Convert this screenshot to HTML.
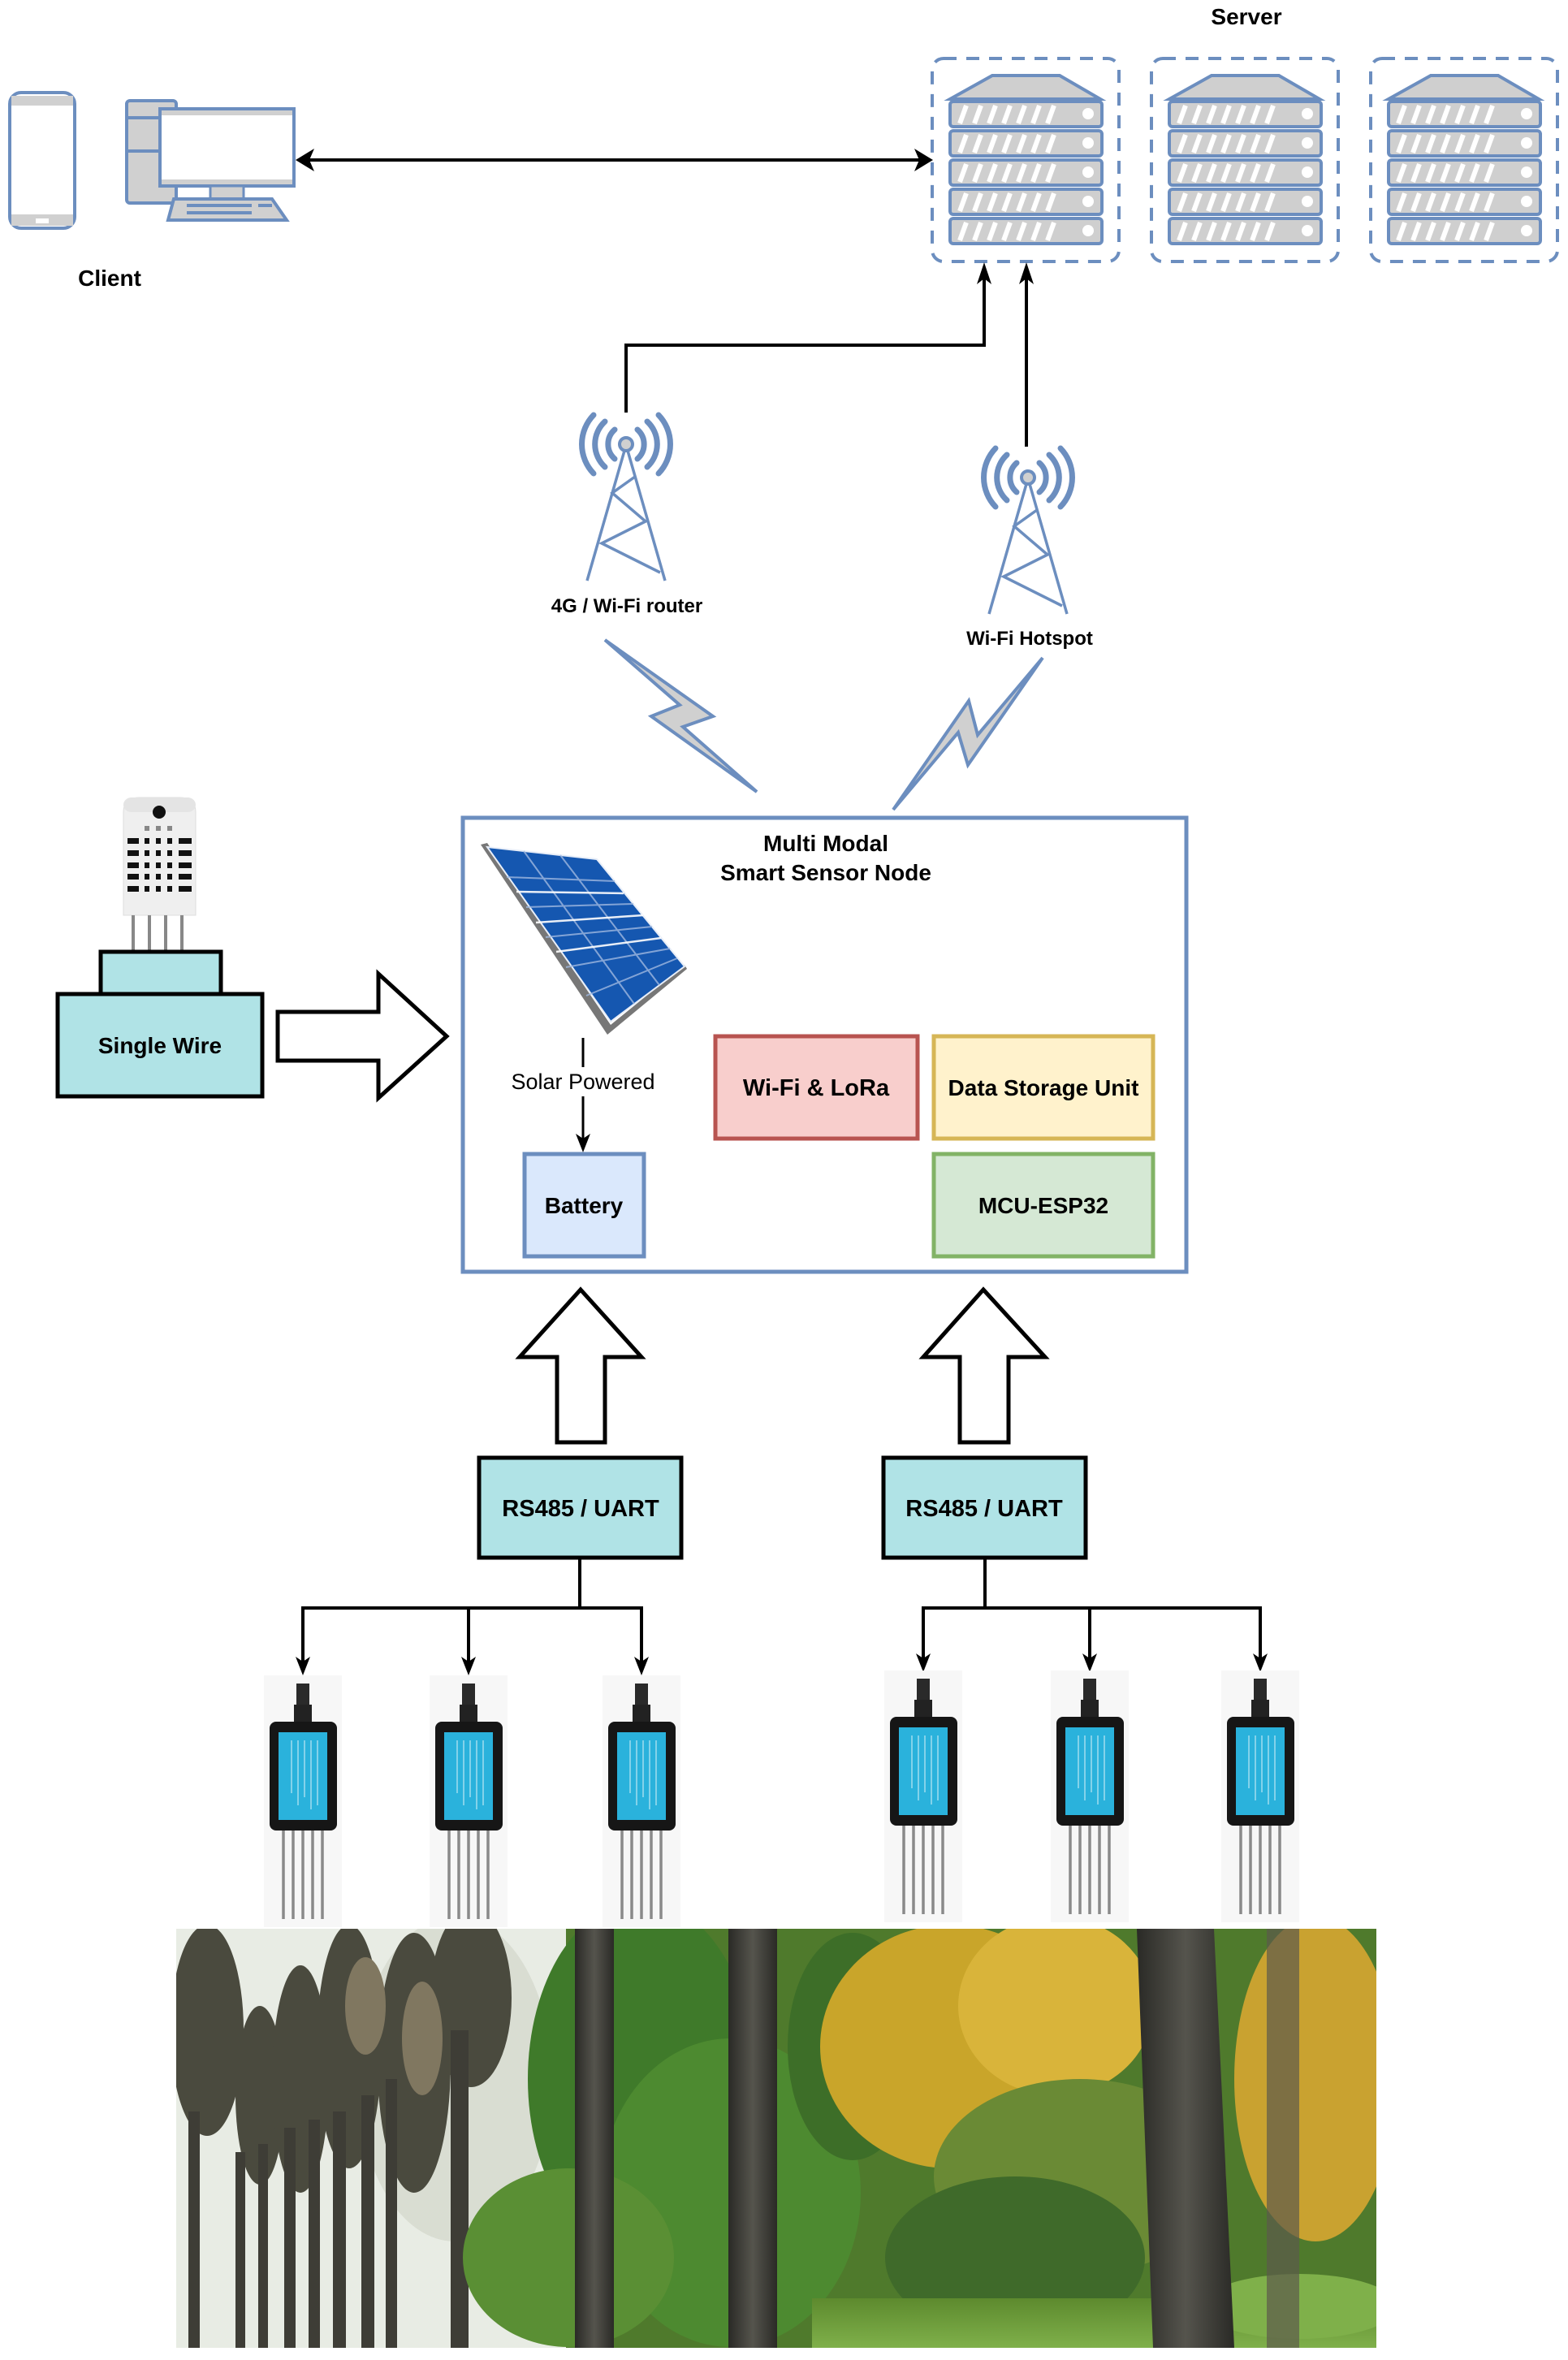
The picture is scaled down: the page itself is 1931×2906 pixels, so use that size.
<!DOCTYPE html>
<html><head><meta charset="utf-8"><style>
html,body{margin:0;padding:0;background:#fff;}
svg{display:block}
text{font-family:"Liberation Sans",Arial,sans-serif;}
</style></head><body>
<svg width="1931" height="2906" viewBox="0 0 1931 2906" xmlns="http://www.w3.org/2000/svg">
<defs>
<marker id="ah" markerWidth="10" markerHeight="10" refX="9" refY="5" orient="auto" markerUnits="userSpaceOnUse" viewBox="0 0 10 10">
</marker>
<g id="srv">
  <rect x="0" y="0" width="230" height="250" rx="14" fill="none" stroke="#6c8ebf" stroke-width="4" stroke-dasharray="16,12"/>
  <polygon points="74,21 157,21 207,50 22,50" fill="#cfcfcf" stroke="#6c8ebf" stroke-width="4"/>
  <g id="unit">
    <rect x="22" y="53" width="187" height="31" rx="4" fill="#cfcfcf" stroke="#6c8ebf" stroke-width="4"/>
    <g stroke="#fff" stroke-width="6">
      <line x1="34" y1="80" x2="42" y2="58"/><line x1="52" y1="80" x2="60" y2="58"/><line x1="70" y1="80" x2="78" y2="58"/>
      <line x1="88" y1="80" x2="96" y2="58"/><line x1="106" y1="80" x2="114" y2="58"/><line x1="124" y1="80" x2="132" y2="58"/><line x1="142" y1="80" x2="150" y2="58"/>
    </g>
    <circle cx="192" cy="68" r="7" fill="#fff"/>
  </g>
  <use href="#unit" y="36"/><use href="#unit" y="72"/><use href="#unit" y="108"/><use href="#unit" y="144"/>
</g>
<g id="tower">
  <g fill="none" stroke="#6c8ebf" stroke-width="7" stroke-linecap="round">
    <path d="M -14 -18 A 24 24 0 0 0 -14 18"/><path d="M 14 -18 A 24 24 0 0 1 14 18"/>
    <path d="M -26 -28 A 38 38 0 0 0 -26 28"/><path d="M 26 -28 A 38 38 0 0 1 26 28"/>
    <path d="M -40 -36 A 52 52 0 0 0 -40 36"/><path d="M 40 -36 A 52 52 0 0 1 40 36"/>
  </g>
  <circle cx="0" cy="0" r="8" fill="#d0d0d0" stroke="#6c8ebf" stroke-width="4"/>
  <g stroke="#6c8ebf" stroke-width="3.5" fill="none">
    <line x1="-2" y1="8" x2="-48" y2="168"/><line x1="2" y1="8" x2="48" y2="168"/>
    <polyline points="11,40 -17,60 24,95 -30,122 42,158"/>
  </g>
</g>
<g id="soil">
  <rect x="-48" y="-10" width="96" height="310" fill="#f7f7f7"/>
  <rect x="-8" y="0" width="16" height="30" fill="#2a2a2a"/>
  <rect x="-11" y="26" width="22" height="22" fill="#222"/>
  <rect x="-41" y="47" width="83" height="134" rx="8" fill="#161616"/>
  <rect x="-30" y="60" width="60" height="108" fill="#2ab2dc"/>
  <g stroke="#fff" stroke-width="1.2" opacity="0.7">
    <line x1="18" y1="70" x2="18" y2="150"/><line x1="10" y1="70" x2="10" y2="155"/><line x1="2" y1="70" x2="2" y2="140"/><line x1="-6" y1="70" x2="-6" y2="150"/><line x1="-14" y1="70" x2="-14" y2="135"/>
  </g>
  <g stroke="#8a8a8a" stroke-width="3.5">
    <line x1="-24" y1="181" x2="-24" y2="290"/><line x1="-12" y1="181" x2="-12" y2="290"/><line x1="0" y1="181" x2="0" y2="290"/><line x1="12" y1="181" x2="12" y2="290"/><line x1="24" y1="181" x2="24" y2="290"/>
  </g>
</g>
<linearGradient id="trunk" x1="0" x2="1"><stop offset="0" stop-color="#2a2a26"/><stop offset="0.5" stop-color="#55544d"/><stop offset="1" stop-color="#2a2a26"/></linearGradient>
<linearGradient id="ground" x1="0" y1="0" x2="0" y2="1"><stop offset="0" stop-color="#5d8a2e"/><stop offset="1" stop-color="#7fb04a"/></linearGradient>
<clipPath id="pc"><rect x="217" y="2375" width="1478" height="516"/></clipPath>
</defs>

<!-- Client -->
<rect x="12" y="114" width="80" height="167" rx="14" fill="#fff" stroke="#6c8ebf" stroke-width="4"/>
<rect x="14" y="118" width="76" height="12" fill="#d0d0d0"/>
<rect x="14" y="264" width="76" height="14" fill="#d0d0d0"/>
<rect x="44" y="269" width="16" height="6" fill="#fff"/>
<rect x="156" y="124" width="61" height="126" rx="4" fill="#d0d0d0" stroke="#6c8ebf" stroke-width="4"/>
<line x1="156" y1="145" x2="217" y2="145" stroke="#6c8ebf" stroke-width="4"/>
<line x1="156" y1="186" x2="217" y2="186" stroke="#6c8ebf" stroke-width="4"/>
<rect x="197" y="134" width="165" height="95" fill="#fff" stroke="#6c8ebf" stroke-width="4"/>
<rect x="199" y="136" width="161" height="6" fill="#d0d0d0"/>
<rect x="199" y="221" width="161" height="6" fill="#d0d0d0"/>
<rect x="259" y="229" width="41" height="16" fill="#d0d0d0" stroke="#6c8ebf" stroke-width="3"/>
<polygon points="214,245 335,245 353,271 207,271" fill="#d0d0d0" stroke="#6c8ebf" stroke-width="4"/>
<g stroke="#6c8ebf" stroke-width="4"><line x1="230" y1="253" x2="310" y2="253"/><line x1="230" y1="262" x2="310" y2="262"/><line x1="318" y1="253" x2="335" y2="253"/></g>
<text x="135" y="352" font-size="28" font-weight="bold" text-anchor="middle">Client</text>

<!-- client-server arrow -->
<line x1="375" y1="197" x2="1138" y2="197" stroke="#000" stroke-width="4"/>
<polygon points="364,197 387,183 381,197 387,211" fill="#000"/>
<polygon points="1149,197 1126,183 1132,197 1126,211" fill="#000"/>

<!-- Servers -->
<text x="1535" y="30" font-size="28" font-weight="bold" text-anchor="middle">Server</text>
<use href="#srv" x="1148" y="72"/>
<use href="#srv" x="1418" y="72"/>
<use href="#srv" x="1688" y="72"/>

<!-- tower connectors -->
<polyline points="771,508 771,425 1212,425 1212,340" fill="none" stroke="#000" stroke-width="4"/>
<polygon points="1212,323 1203,350 1212,343 1221,350" fill="#000"/>
<line x1="1264" y1="550" x2="1264" y2="340" stroke="#000" stroke-width="4"/>
<polygon points="1264,323 1255,350 1264,343 1273,350" fill="#000"/>

<use href="#tower" x="771" y="547"/>
<use href="#tower" x="1266" y="588" transform=""/>
<text x="772" y="754" font-size="24" font-weight="bold" text-anchor="middle">4G / Wi-Fi router</text>
<text x="1268" y="794" font-size="24" font-weight="bold" text-anchor="middle">Wi-Fi Hotspot</text>

<!-- bolts -->
<polygon points="745,788 837,868 802,882 932,975 841,895 878,882" fill="#d0d0d0" stroke="#6c8ebf" stroke-width="4" stroke-linejoin="miter"/>
<polygon points="1284,810 1192,942 1180,902 1100,997 1193,863 1204,905" fill="#d0d0d0" stroke="#6c8ebf" stroke-width="4"/>

<!-- Main box -->
<rect x="570" y="1007" width="891" height="559" fill="#fff" stroke="#6c8ebf" stroke-width="5"/>
<text x="1017" y="1048" font-size="28" font-weight="bold" text-anchor="middle">Multi Modal</text>
<text x="1017" y="1084" font-size="28" font-weight="bold" text-anchor="middle">Smart Sensor Node</text>

<!-- solar panel -->
<polygon points="592,1040 748,1274 846,1193 843,1188 752,1262 600,1038" fill="#777"/>
<polygon points="600,1043 735,1058 843,1190 752,1258" fill="#1557b0" stroke="#e8eef8" stroke-width="2"/>
<g stroke="#9fb8e0" stroke-width="2" fill="none" opacity="0.8">
  <line x1="645" y1="1048" x2="781" y2="1236"/><line x1="690" y1="1053" x2="812" y2="1213"/>
  <line x1="624" y1="1080" x2="757" y2="1085"/><line x1="648" y1="1117" x2="780" y2="1113"/><line x1="672" y1="1154" x2="803" y2="1141"/><line x1="697" y1="1191" x2="825" y2="1168"/><line x1="722" y1="1226" x2="834" y2="1180"/>
</g>
<g stroke="#fff" stroke-width="2.5" opacity="0.9">
  <line x1="636" y1="1098" x2="768" y2="1100"/><line x1="660" y1="1136" x2="792" y2="1127"/><line x1="685" y1="1172" x2="814" y2="1155"/>
</g>

<!-- solar powered -->
<line x1="718" y1="1278" x2="718" y2="1314" stroke="#000" stroke-width="3"/>
<text x="718" y="1341" font-size="27" text-anchor="middle">Solar Powered</text>
<line x1="718" y1="1350" x2="718" y2="1405" stroke="#000" stroke-width="3"/>
<polygon points="718,1419 709,1396 718,1402 727,1396" fill="#000"/>

<rect x="646" y="1421" width="147" height="126" fill="#dae8fc" stroke="#6c8ebf" stroke-width="5"/>
<text x="719" y="1494" font-size="28" font-weight="bold" text-anchor="middle">Battery</text>
<rect x="881" y="1276" width="249" height="126" fill="#f8cecc" stroke="#b85450" stroke-width="5"/>
<text x="1005" y="1349" font-size="29" font-weight="bold" text-anchor="middle">Wi-Fi &amp; LoRa</text>
<rect x="1150" y="1276" width="270" height="126" fill="#fff2cc" stroke="#d6b656" stroke-width="5"/>
<text x="1285" y="1349" font-size="28" font-weight="bold" text-anchor="middle">Data Storage Unit</text>
<rect x="1150" y="1421" width="270" height="126" fill="#d5e8d4" stroke="#82b366" stroke-width="5"/>
<text x="1285" y="1494" font-size="28" font-weight="bold" text-anchor="middle">MCU-ESP32</text>

<!-- DHT sensor + single wire -->
<path d="M152,1127 V1000 Q152,982 172,982 H221 Q241,982 241,1000 V1127 Z" fill="#efefef" stroke="#ddd" stroke-width="1"/>
<rect x="152" y="982" width="89" height="18" rx="10" fill="#e4e4e4"/>
<circle cx="196" cy="1000" r="8" fill="#111"/>
<g fill="#888"><rect x="178" y="1017" width="6" height="6"/><rect x="192" y="1017" width="6" height="6"/><rect x="206" y="1017" width="6" height="6"/></g>
<g fill="#111">
  <rect x="157" y="1032" width="14" height="7"/><rect x="178" y="1032" width="6" height="7"/><rect x="192" y="1032" width="6" height="7"/><rect x="206" y="1032" width="6" height="7"/><rect x="220" y="1032" width="16" height="7"/>
  <rect x="157" y="1047" width="14" height="7"/><rect x="178" y="1047" width="6" height="7"/><rect x="192" y="1047" width="6" height="7"/><rect x="206" y="1047" width="6" height="7"/><rect x="220" y="1047" width="16" height="7"/>
  <rect x="157" y="1062" width="14" height="7"/><rect x="178" y="1062" width="6" height="7"/><rect x="192" y="1062" width="6" height="7"/><rect x="206" y="1062" width="6" height="7"/><rect x="220" y="1062" width="16" height="7"/>
  <rect x="157" y="1076" width="14" height="7"/><rect x="178" y="1076" width="6" height="7"/><rect x="192" y="1076" width="6" height="7"/><rect x="206" y="1076" width="6" height="7"/><rect x="220" y="1076" width="16" height="7"/>
  <rect x="157" y="1091" width="14" height="7"/><rect x="178" y="1091" width="6" height="7"/><rect x="192" y="1091" width="6" height="7"/><rect x="206" y="1091" width="6" height="7"/><rect x="220" y="1091" width="16" height="7"/>
</g>
<g stroke="#888" stroke-width="4"><line x1="164" y1="1127" x2="164" y2="1172"/><line x1="184" y1="1127" x2="184" y2="1172"/><line x1="204" y1="1127" x2="204" y2="1172"/><line x1="224" y1="1127" x2="224" y2="1172"/></g>
<rect x="124" y="1172" width="148" height="52" fill="#b0e3e6" stroke="#000" stroke-width="5"/>
<rect x="71" y="1224" width="252" height="126" fill="#b0e3e6" stroke="#000" stroke-width="5"/>
<text x="197" y="1297" font-size="28" font-weight="bold" text-anchor="middle">Single Wire</text>
<polygon points="342,1246 466,1246 466,1199 550,1276 466,1352 466,1306 342,1306" fill="#fff" stroke="#000" stroke-width="5"/>

<!-- up arrows -->
<polygon points="715,1588 790,1671 745,1671 745,1776 686,1776 686,1671 640,1671" fill="#fff" stroke="#000" stroke-width="5"/>
<polygon points="1211,1588 1287,1671 1242,1671 1242,1776 1182,1776 1182,1671 1137,1671" fill="#fff" stroke="#000" stroke-width="5"/>

<rect x="590" y="1795" width="249" height="123" fill="#b0e3e6" stroke="#000" stroke-width="5"/>
<text x="715" y="1867" font-size="29" font-weight="bold" text-anchor="middle">RS485 / UART</text>
<rect x="1088" y="1795" width="249" height="123" fill="#b0e3e6" stroke="#000" stroke-width="5"/>
<text x="1212" y="1867" font-size="29" font-weight="bold" text-anchor="middle">RS485 / UART</text>

<!-- trees connectors -->
<g fill="none" stroke="#000" stroke-width="4">
  <polyline points="714,1918 714,1980"/><polyline points="373,2046 373,1980 790,1980 790,2046"/><line x1="577" y1="1980" x2="577" y2="2046"/>
  <polyline points="1213,1918 1213,1980"/><polyline points="1137,2042 1137,1980 1552,1980 1552,2042"/><line x1="1342" y1="1980" x2="1342" y2="2042"/>
</g>
<g fill="#000">
  <polygon points="373,2063 364,2040 373,2046 382,2040"/><polygon points="577,2063 568,2040 577,2046 586,2040"/><polygon points="790,2063 781,2040 790,2046 799,2040"/>
  <polygon points="1137,2059 1128,2036 1137,2042 1146,2036"/><polygon points="1342,2059 1333,2036 1342,2042 1351,2036"/><polygon points="1552,2059 1543,2036 1552,2042 1561,2036"/>
</g>

<use href="#soil" x="373" y="2073"/>
<use href="#soil" x="577" y="2073"/>
<use href="#soil" x="790" y="2073"/>
<use href="#soil" x="1137" y="2067"/>
<use href="#soil" x="1342" y="2067"/>
<use href="#soil" x="1552" y="2067"/>

<!-- photo -->
<g clip-path="url(#pc)">
  <rect x="217" y="2375" width="1478" height="516" fill="#4f7a2c"/>
  <rect x="217" y="2375" width="480" height="516" fill="#e8ece4"/>
  <ellipse cx="560" cy="2560" rx="120" ry="200" fill="#d9ddd2"/>
  <!-- left palms -->
  <g fill="#4a4a3e">
    <ellipse cx="255" cy="2500" rx="45" ry="130"/><ellipse cx="320" cy="2580" rx="30" ry="110"/><ellipse cx="370" cy="2560" rx="35" ry="140"/>
    <ellipse cx="430" cy="2520" rx="40" ry="150"/><ellipse cx="510" cy="2540" rx="45" ry="160"/><ellipse cx="580" cy="2460" rx="50" ry="110"/>
  </g>
  <g fill="#807760"><ellipse cx="450" cy="2470" rx="25" ry="60"/><ellipse cx="520" cy="2510" rx="25" ry="70"/></g>
  <g fill="#3e3d36">
    <rect x="232" y="2600" width="14" height="291"/><rect x="290" y="2650" width="12" height="241"/><rect x="318" y="2640" width="12" height="251"/><rect x="350" y="2620" width="14" height="271"/>
    <rect x="380" y="2610" width="14" height="281"/><rect x="410" y="2600" width="16" height="291"/><rect x="445" y="2580" width="16" height="311"/><rect x="475" y="2560" width="14" height="331"/><rect x="555" y="2500" width="22" height="391"/>
  </g>
  <!-- middle green -->
  <ellipse cx="790" cy="2560" rx="140" ry="220" fill="#3f7a2a"/>
  <ellipse cx="900" cy="2700" rx="160" ry="190" fill="#4d8a30"/>
  <ellipse cx="700" cy="2780" rx="130" ry="110" fill="#5a8f34"/>
  <ellipse cx="1050" cy="2520" rx="80" ry="140" fill="#3d6e28"/>
  <!-- right yellow -->
  <ellipse cx="1170" cy="2520" rx="160" ry="150" fill="#c9a52a"/>
  <ellipse cx="1300" cy="2470" rx="120" ry="110" fill="#d9b43a"/>
  <ellipse cx="1620" cy="2560" rx="100" ry="200" fill="#c9a230"/>
  <ellipse cx="1330" cy="2680" rx="180" ry="120" fill="#6a8a35"/>
  <ellipse cx="1250" cy="2780" rx="160" ry="100" fill="#3f6a2a"/>
  <rect x="1000" y="2830" width="695" height="61" fill="url(#ground)"/>
  <ellipse cx="1600" cy="2840" rx="120" ry="40" fill="#7fb04a"/>
  <!-- trunks -->
  <rect x="708" y="2375" width="48" height="516" fill="url(#trunk)"/>
  <rect x="897" y="2375" width="60" height="516" fill="url(#trunk)"/>
  <path d="M1400,2375 H1495 L1520,2891 H1420 Z" fill="url(#trunk)"/>
  <rect x="1560" y="2375" width="40" height="516" fill="#5d5a4c" opacity="0.7"/>
</g>
</svg>
</body></html>
